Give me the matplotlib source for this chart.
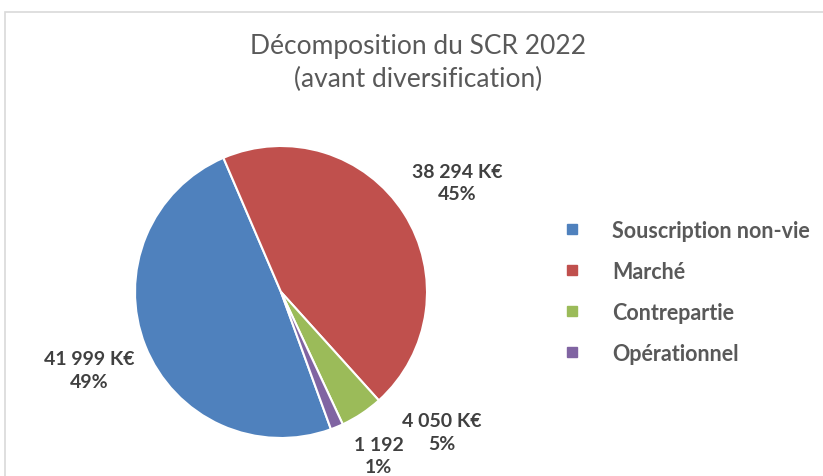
import matplotlib
matplotlib.use("Agg")
import matplotlib.pyplot as plt
from matplotlib.lines import Line2D
from matplotlib.patches import Rectangle

categories = ["Souscription non-vie", "Marché", "Contrepartie", "Opérationnel"]
values = [41999, 38294, 4050, 1192]
value_labels = ["41 999 K€", "38 294 K€", "4 050 K€", "1 192"]
pct_labels = ["49%", "45%", "5%", "1%"]
colors = ["#4F81BD", "#C0504D", "#9BBB59", "#8064A2"]
title = "Décomposition du SCR 2022\n(avant diversification)"

W, H = 823, 477
fig = plt.figure(figsize=(W / 100, H / 100), dpi=100)
fig.patch.set_facecolor("white")

# chart border (left and top visible)
fig.add_artist(Rectangle((5 / W, -0.1), 1.2, (H - 13) / H + 0.1, transform=fig.transFigure,
                         fill=False, edgecolor="#d9d9d9", linewidth=1.2))

# pie axes: centre (281,293) px, radius 146 px
cx, cy, r = 281, 293, 146
ax = fig.add_axes([(cx - r) / W, (H - cy - r) / H, 2 * r / W, 2 * r / H])
ax.pie(values, colors=colors, startangle=-70, counterclock=False, radius=1,
       wedgeprops=dict(edgecolor="white", linewidth=1.5))
ax.set_xlim(-1, 1)
ax.set_ylim(-1, 1)
ax.axis("off")

lab_font = dict(family=["Lato", "DejaVu Sans"], fontweight="bold", fontsize=14, color="#404040")
label_pos = [(-1.315, -0.534), (1.21, 0.75), (1.10, -0.96), (0.67, -1.12)]
for (x, y), v, p in zip(label_pos, value_labels, pct_labels):
    ax.text(x, y, v + "\n" + p, ha="center", va="center", linespacing=1.4,
            clip_on=False, **lab_font)

fig.text(418 / W, 1 - 63 / H, title, ha="center", va="center", fontsize=19,
         family=["Lato", "DejaVu Sans"], color="#595959", linespacing=1.4)

handles = [Line2D([0], [0], marker="s", linestyle="none", markersize=6.5,
                  markerfacecolor=c, markeredgecolor=c) for c in colors]
leg = fig.legend(handles, categories, loc="center left",
                 bbox_to_anchor=(546 / W, 1 - 293 / H), frameon=False,
                 handlelength=0.6, handletextpad=1.57, labelspacing=0.93,
                 prop=dict(family=["Lato", "DejaVu Sans"], weight="bold", size=15.5))
for t in leg.get_texts():
    t.set_color("#595959")

fig.savefig("out.png", dpi=100, facecolor="white")
